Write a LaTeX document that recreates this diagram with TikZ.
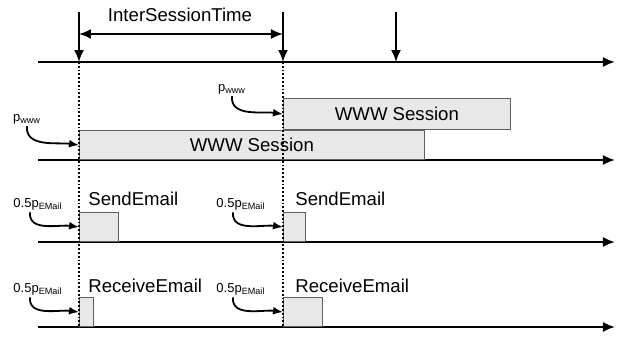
\documentclass[tikz,border=0pt]{standalone}
\usepackage{fontspec}
\setmainfont{Liberation Sans}
\usetikzlibrary{arrows.meta,positioning}
\tikzset{
    time-axis/.style = {line width=1pt, -{Latex[length=6pt,width=5pt]}},
    event-arrow/.style = {line width=0.9pt, -{Latex[length=6pt,width=5pt]}},
    dim-arrow/.style = {line width=0.9pt, {Latex[length=6pt,width=5pt]}-{Latex[length=6pt,width=5pt]}},
    session-box/.style = {draw=gray!75!black, fill=gray!18, thin, rectangle, anchor=south west, minimum height=14.5pt, inner sep=0pt, font=\fontsize{9.3}{11}\selectfont},
    box-title/.style = {inner sep=0pt, font=\fontsize{9.3}{11}\selectfont},
    prob-label/.style = {inner sep=1pt, font=\fontsize{6.5}{8}\selectfont},
    prob-arrow/.style = {line width=0.9pt, -{Latex[length=5pt,width=4pt]}},
    sync-line/.style = {densely dotted, line width=0.9pt},
}
\begin{document}
\begin{tikzpicture}[x=0.5pt, y=-0.5pt]
\useasboundingbox (0,0) rectangle (618,338);

\coordinate (t1-start) at (38,62);  \coordinate (t1-end) at (615,62);
\coordinate (t2-start) at (38,160); \coordinate (t2-end) at (615,160);
\coordinate (t3-start) at (38,242); \coordinate (t3-end) at (615,242);
\coordinate (t4-start) at (38,327); \coordinate (t4-end) at (615,327);
\foreach \n in {1,...,4} \draw[time-axis] (t\n-start) -- (t\n-end);

\coordinate (ev-a-top) at (79,12);  \coordinate (ev-a) at (79,62);
\coordinate (ev-b-top) at (283,12); \coordinate (ev-b) at (283,62);
\coordinate (ev-c-top) at (396,12); \coordinate (ev-c) at (396,62);
\foreach \e in {a,b,c} \draw[event-arrow] (ev-\e-top) -- (ev-\e);

\coordinate (dim-a) at (79,34); \coordinate (dim-b) at (283,34);
\draw[dim-arrow] (dim-a) -- (dim-b);
\node[box-title] (ist) at (180,15) {InterSessionTime};

\node[session-box, minimum width=172.5pt] (www-a) at (79,160) {WWW Session};
\node[session-box, minimum width=113.5pt, minimum height=15.5pt] (www-b) at (283,130) {WWW Session};
\node[session-box, minimum width=19.5pt] (send-a) at (79,242) {};
\node[session-box, minimum width=11pt] (send-b) at (283,242) {};
\node[session-box, minimum width=7pt] (recv-a) at (79,327) {};
\node[session-box, minimum width=19.5pt] (recv-b) at (283,327) {};

\node[box-title, above right=3pt and 4.5pt of send-a.north west] (send-a-title) {SendEmail};
\node[box-title, above right=3pt and 6pt of send-b.north west] (send-b-title) {SendEmail};
\node[box-title, above right=2pt and 4.5pt of recv-a.north west] (recv-a-title) {ReceiveEmail};
\node[box-title, above right=2pt and 6pt of recv-b.north west] (recv-b-title) {ReceiveEmail};

\draw[sync-line] (ev-a) -- (ev-a |- t4-start);
\draw[sync-line] (ev-b) -- (ev-b |- t4-start);

\node[prob-label] (pw-a) at (27,119) {p\textsubscript{www}};
\node[prob-label] (pw-b) at (232,89) {p\textsubscript{www}};
\node[prob-label] (pe-send-a) at (38,204) {0.5p\textsubscript{EMail}};
\node[prob-label] (pe-send-b) at (241,204) {0.5p\textsubscript{EMail}};
\node[prob-label] (pe-recv-a) at (38,289) {0.5p\textsubscript{EMail}};
\node[prob-label] (pe-recv-b) at (241,289) {0.5p\textsubscript{EMail}};

\draw[prob-arrow] (pw-a.south) to[out=-95, in=172] (www-a.west);
\draw[prob-arrow] (pw-b.south) to[out=-95, in=172] (www-b.west);
\draw[prob-arrow] ([xshift=-4pt]pe-send-a.south) to[out=-95, in=172] (send-a.west);
\draw[prob-arrow] ([xshift=-4pt]pe-send-b.south) to[out=-95, in=172] (send-b.west);
\draw[prob-arrow] ([xshift=-4pt]pe-recv-a.south) to[out=-95, in=172] (recv-a.west);
\draw[prob-arrow] ([xshift=-4pt]pe-recv-b.south) to[out=-95, in=172] (recv-b.west);
\end{tikzpicture}
\end{document}
